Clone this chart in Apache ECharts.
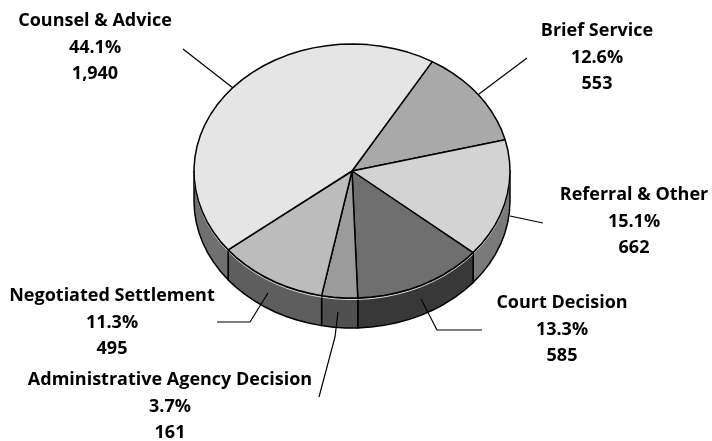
<!DOCTYPE html>
<html>
<head>
<meta charset="utf-8">
<style>html,body{margin:0;padding:0;background:#fff}#c{width:712px;height:441px}</style>
<script src="https://cdn.jsdelivr.net/npm/echarts@6/dist/echarts.min.js"></script>
</head>
<body>
<div id="c"></div>
<script>
const categories = ['Brief Service','Referral & Other','Court Decision','Administrative Agency Decision','Negotiated Settlement','Counsel & Advice'];
const counts = [553,662,585,161,495,1940];
const countLabels = ['553','662','585','161','495','1,940'];
const percentLabels = ['12.6%','15.1%','13.3%','3.7%','11.3%','44.1%'];
const topColors = ['#a9a9a9','#d3d3d3','#6f6f6f','#9b9b9b','#bcbcbc','#e5e5e5'];
const sideColors = ['#777777','#7a7a7a','#383838','#505050','#5e5e5e','#707070'];
const labelCenters = [[597,31],[634,195],[562,303],[170,380],[112,296],[95,21]];
const leaders = [
  [[527,58],[479,94]],
  [[543,223],[510,216]],
  [[482,330],[437,330],[421,299]],
  [[319,397],[335,337],[338,312]],
  [[217,322],[250,322],[268,293]],
  [[183,49],[233,88]]
];

const cx=352, cy=171, rx=158, ry=127, depth=30, startDeg=30.5, lineH=26.5;
const total=counts.reduce((a,b)=>a+b,0);
const spans=[]; counts.reduce((acc,v)=>{const e=acc+v/total*360;spans.push([acc,e]);return e;},startDeg);
const pt=(d,dy=0)=>{const r=d*Math.PI/180;return [cx+rx*Math.sin(r),cy-ry*Math.cos(r)+dy];};
function arc(a,b,dy){const out=[];const n=Math.max(2,Math.ceil(Math.abs(b-a)/5));for(let i=0;i<=n;i++)out.push(pt(a+(b-a)*i/n,dy));return out;}
const rows=categories.map((c,i)=>[i]);

function sideItem(p,api){
  const i=api.value(0), kids=[];
  [[90,270],[450,630]].forEach(([lo,hi])=>{
    const a=Math.max(spans[i][0],lo), b=Math.min(spans[i][1],hi);
    if(b<=a) return;
    kids.push({type:'polygon',shape:{points:arc(a,b,0).concat(arc(b,a,depth))},
      style:{fill:sideColors[i],stroke:'#000',lineWidth:1.5,lineJoin:'round'}});
    kids.push({type:'polyline',shape:{points:arc(a,b,1.6)},style:{fill:'none',stroke:'#d8d8d8',lineWidth:1}});
  });
  return {type:'group',children:kids};
}
function topItem(p,api){
  const i=api.value(0);
  return {type:'polygon',shape:{points:[[cx,cy]].concat(arc(spans[i][0],spans[i][1],0))},
    style:{fill:topColors[i],stroke:'#000',lineWidth:1.5,lineJoin:'round'}};
}
function labelItem(p,api){
  const i=api.value(0);
  return {type:'group',children:[
    {type:'polyline',shape:{points:leaders[i]},style:{fill:'none',stroke:'#000',lineWidth:1.2}},
    {type:'text',style:{x:labelCenters[i][0],y:labelCenters[i][1]-lineH/2,align:'center',verticalAlign:'top',
      text:categories[i]+'\n'+percentLabels[i]+'\n'+countLabels[i],
      font:'bold 18px "Open Sans"',lineHeight:lineH,fill:'#000'}}
  ]};
}
const chart=echarts.init(document.getElementById('c'),null,{renderer:'canvas'});
chart.setOption({animation:false,
  series:[
    {type:'custom',coordinateSystem:'none',data:rows,renderItem:sideItem,silent:true,z:1},
    {type:'custom',coordinateSystem:'none',data:rows,renderItem:topItem,silent:true,z:2},
    {type:'custom',coordinateSystem:'none',data:rows,renderItem:labelItem,silent:true,z:3}
  ]});
</script>
</body>
</html>
